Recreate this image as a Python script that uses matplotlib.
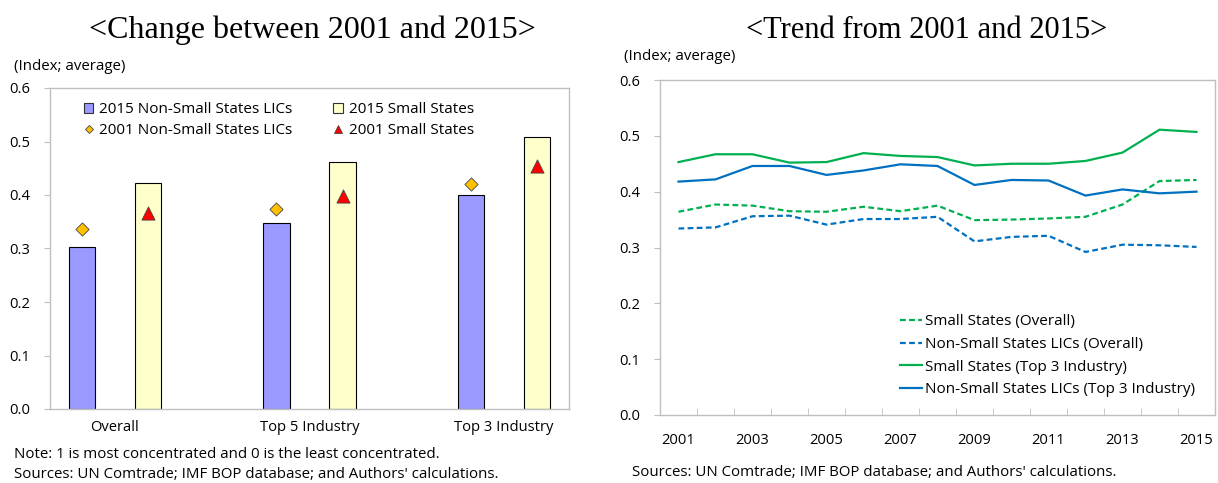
import matplotlib
matplotlib.use("Agg")
import matplotlib.pyplot as plt
from matplotlib.lines import Line2D
from matplotlib.patches import Patch
import numpy as np

plt.rcParams['font.family'] = ['Open Sans', 'DejaVu Sans']

# ---------------- data ----------------
categories = ["Overall", "Top 5 Industry", "Top 3 Industry"]
nonsmall_2015 = [0.303, 0.347, 0.400]
small_2015 = [0.423, 0.461, 0.509]
nonsmall_2001 = [0.336, 0.373, 0.420]
small_2001 = [0.366, 0.399, 0.455]

years = list(range(2001, 2016))
small_overall = [0.364, 0.377, 0.375, 0.365, 0.364, 0.373, 0.365, 0.375, 0.349, 0.350,
                 0.352, 0.355, 0.377, 0.419, 0.421]
nonsmall_overall = [0.334, 0.336, 0.356, 0.357, 0.341, 0.351, 0.351, 0.355, 0.311, 0.319,
                    0.321, 0.292, 0.305, 0.304, 0.301]
small_top3 = [0.453, 0.467, 0.467, 0.452, 0.453, 0.469, 0.464, 0.462, 0.447, 0.450,
              0.450, 0.455, 0.470, 0.511, 0.507]
nonsmall_top3 = [0.418, 0.422, 0.446, 0.446, 0.430, 0.438, 0.449, 0.446, 0.412, 0.421,
                 0.420, 0.393, 0.404, 0.397, 0.400]
year_labels = [str(y) for y in years[::2]]

# ---------------- styles ----------------
PURPLE = "#9999FF"
YELLOW = "#FFFFCC"
ORANGE = "#FFC000"
RED = "#FF0000"
GREEN = "#00B050"
BLUE = "#0070C0"
GRID = "#BFBFBF"
NOTE_FS = 10.8
TICK_FS = 10.6

W, H = 1218, 483
fig = plt.figure(figsize=(W / 100, H / 100), dpi=100)

def fx(px):
    return px / W

def fy(py):
    return 1 - py / H

# ---------------- left chart ----------------
axL = fig.add_axes([fx(50), fy(409), fx(569 - 50), fy(88) - fy(409)])
x = np.arange(len(categories))
off = 0.17
bw = 0.135
axL.bar(x - off, nonsmall_2015, bw, color=PURPLE, edgecolor="black", linewidth=0.8, zorder=2)
axL.bar(x + off, small_2015, bw, color=YELLOW, edgecolor="black", linewidth=0.8, zorder=2)
axL.scatter(x - off, nonsmall_2001, marker="D", s=45, color=ORANGE, edgecolor="#444444",
            linewidth=0.6, zorder=3)
axL.scatter(x + off, small_2001, marker="^", s=90, color=RED, edgecolor="#444444",
            linewidth=0.6, zorder=3)
axL.set_xlim(-1 / 3, 2 + 1 / 3)
axL.set_ylim(0, 0.6)
axL.set_yticks(np.arange(0, 0.61, 0.1))
axL.set_yticklabels([f"{v:.1f}" for v in np.arange(0, 0.61, 0.1)])
axL.set_xticks(x)
axL.set_xticklabels(categories)
for s in axL.spines.values():
    s.set_color(GRID)
    s.set_linewidth(1.0)
axL.tick_params(axis="y", length=4, color=GRID, labelsize=TICK_FS, pad=10)
axL.tick_params(axis="x", length=0, labelsize=TICK_FS, pad=8)

handlesL = [
    Patch(facecolor=PURPLE, edgecolor="#333333", linewidth=0.8),
    Line2D([], [], marker="D", linestyle="none", markersize=4.5, markerfacecolor=ORANGE,
           markeredgecolor="#444444", markeredgewidth=0.6),
    Patch(facecolor=YELLOW, edgecolor="#333333", linewidth=0.8),
    Line2D([], [], marker="^", linestyle="none", markersize=6, markerfacecolor=RED,
           markeredgecolor="#444444", markeredgewidth=0.6),
]
labelsL = ["2015 Non-Small States LICs", "2001 Non-Small States LICs",
           "2015 Small States", "2001 Small States"]
axL.legend(handlesL, labelsL, ncol=2, loc="upper left", bbox_to_anchor=(0.047, 0.985),
           frameon=False, fontsize=11, handlelength=0.65, handleheight=0.65,
           handletextpad=0.35, columnspacing=2.7, labelspacing=0.42, borderaxespad=0.2)

fig.text(fx(312), fy(38), "<Change between 2001 and 2015>", ha="center", va="baseline",
         fontsize=23, family="Liberation Serif")
fig.text(fx(14), fy(66), "(Index; average)", ha="left", va="center", fontsize=NOTE_FS)
fig.text(fx(14), fy(454), "Note: 1 is most concentrated and 0 is the least concentrated.",
         ha="left", va="center", fontsize=NOTE_FS)
fig.text(fx(14), fy(474), "Sources: UN Comtrade; IMF BOP database; and Authors' calculations.",
         ha="left", va="center", fontsize=NOTE_FS)

# ---------------- right chart ----------------
axR = fig.add_axes([fx(660), fy(415), fx(1215 - 660), fy(80) - fy(415)])
dash = (0, (2.6, 1.5))
axR.plot(years, small_overall, color=GREEN, linestyle=dash, linewidth=1.6,
         label="Small States (Overall)")
axR.plot(years, nonsmall_overall, color=BLUE, linestyle=dash, linewidth=1.6,
         label="Non-Small States LICs (Overall)")
axR.plot(years, small_top3, color=GREEN, linewidth=1.6, label="Small States (Top 3 Industry)")
axR.plot(years, nonsmall_top3, color=BLUE, linewidth=1.6,
         label="Non-Small States LICs (Top 3 Industry)")
axR.set_xlim(years[0] - 0.5, years[-1] + 0.5)
axR.set_ylim(0, 0.6)
axR.set_yticks(np.arange(0, 0.61, 0.1))
axR.set_yticklabels([f"{v:.1f}" for v in np.arange(0, 0.61, 0.1)])
axR.set_xticks(years[::2])
axR.set_xticklabels(year_labels)
axR.set_xticks([y + 0.5 for y in years[:-1]], minor=True)
for s in axR.spines.values():
    s.set_color(GRID)
    s.set_linewidth(1.0)
axR.tick_params(axis="y", length=4, color=GRID, labelsize=TICK_FS, pad=10)
axR.tick_params(axis="x", which="major", length=0, labelsize=TICK_FS, pad=13)
axR.tick_params(axis="x", which="minor", direction="in", length=5, color=GRID)
axR.legend(loc="lower right", bbox_to_anchor=(0.98, 0.025), frameon=False, fontsize=11,
           handlelength=1.5, handletextpad=0.15, labelspacing=0.51, borderaxespad=0.2)

fig.text(fx(927), fy(38), "<Trend from 2001 and 2015>", ha="center", va="baseline",
         fontsize=22, family="Liberation Serif")
fig.text(fx(624), fy(56), "(Index; average)", ha="left", va="center", fontsize=NOTE_FS)
fig.text(fx(632), fy(472), "Sources: UN Comtrade; IMF BOP database; and Authors' calculations.",
         ha="left", va="center", fontsize=NOTE_FS)

fig.savefig("out.png", dpi=100)
